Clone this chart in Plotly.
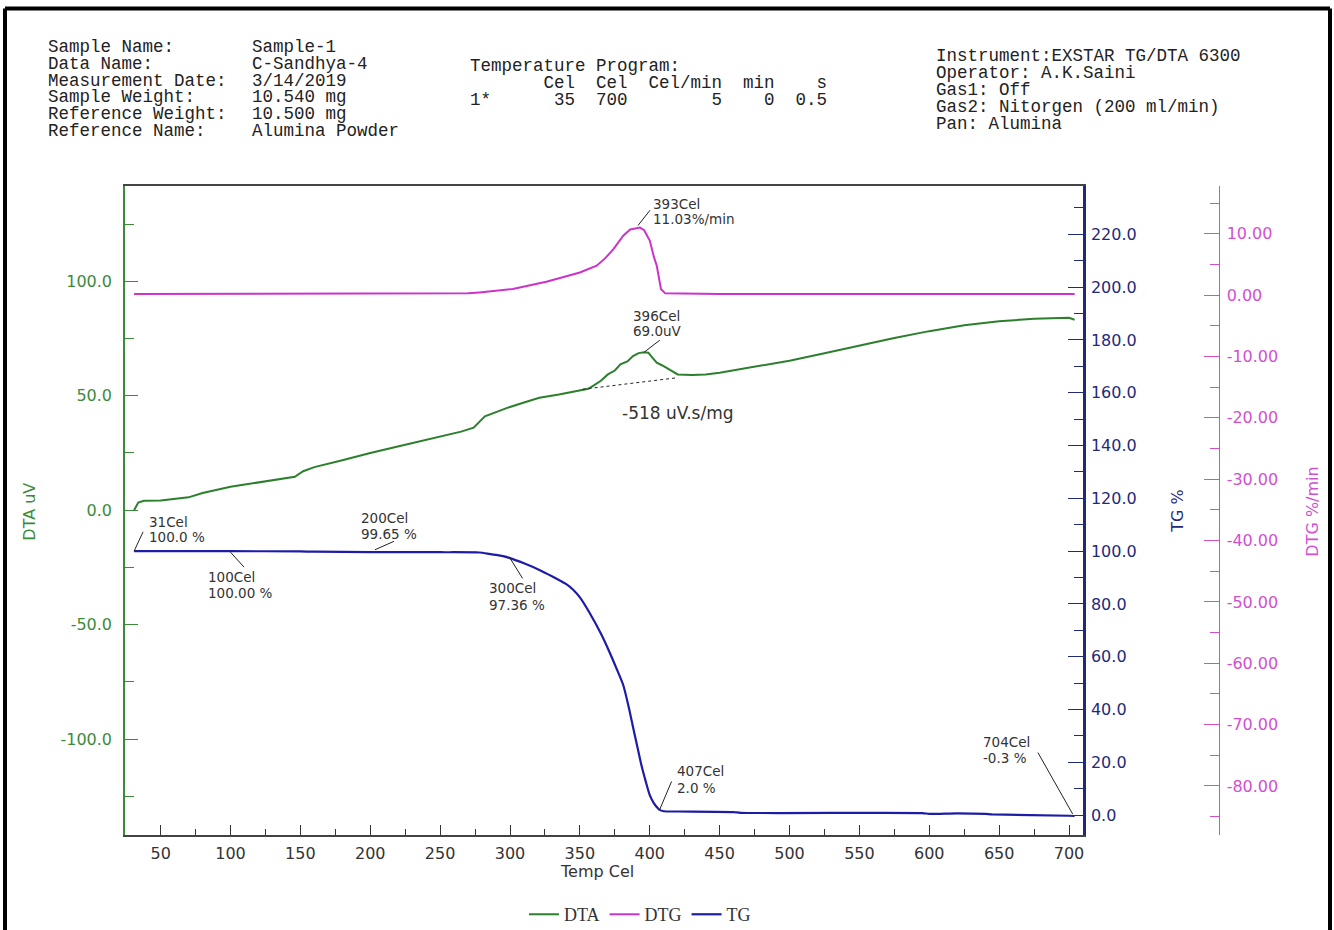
import plotly.graph_objects as go

# ---------------- data ----------------
T_DTA = [31, 34, 38, 50, 70, 80, 100, 120, 140, 146, 152, 160, 180, 200, 225, 250, 265, 274,
         278, 282, 290, 298, 310, 321, 335, 350, 356, 360, 365, 370, 375, 379, 384, 388, 392,
         396, 399, 402, 405, 409, 412, 416, 420, 430, 440, 450, 475, 500, 525, 550, 575, 600,
         625, 650, 675, 700, 704]
DTA = [0.0, 3.3, 4.1, 4.2, 5.6, 7.5, 10.2, 12.2, 14.0, 14.6, 17.0, 18.8, 21.8, 25.0, 28.6,
       32.0, 34.3, 36.0, 38.5, 41.0, 42.8, 44.7, 47.0, 49.1, 50.5, 52.3, 53.0, 54.5, 56.5,
       59.3, 61.0, 63.7, 65.0, 67.3, 68.6, 69.0, 68.8, 66.5, 64.4, 63.2, 62.2, 60.5, 59.3,
       59.0, 59.3, 60.0, 62.5, 65.3, 68.5, 72.0, 75.2, 78.2, 80.8, 82.5, 83.6, 84.0, 83.2]

T_DTG = [31, 100, 200, 270, 278, 302, 326, 350, 362, 368, 374, 381, 386, 390, 393, 396,
         400, 403, 405, 408, 411, 450, 500, 600, 704]
DTG = [0.2, 0.2, 0.2, 0.3, 0.45, 1.0, 2.2, 3.7, 4.8, 6.0, 7.5, 9.7, 10.7, 10.95, 11.03,
       10.6, 8.9, 6.2, 4.8, 1.0, 0.3, 0.2, 0.2, 0.2, 0.2]

T_TG = [31, 100, 150, 160, 200, 250, 278, 285, 290, 295, 300, 310, 321, 330, 340, 345, 350,
        357, 365, 371, 376, 381, 385, 388, 391, 394, 397, 400, 403, 406, 407, 410, 420, 460,
        465, 595, 600, 620, 640, 645, 700, 704]
TG = [100.0, 100.0, 99.9, 99.8, 99.65, 99.6, 99.5, 99.0, 98.6, 98.1, 97.36, 95.4, 92.9,
      90.5, 87.6, 85.5, 82.5, 76.6, 68.8, 62.0, 55.8, 49.3, 40.8, 33.4, 26.2, 19.0, 13.0,
      7.6, 4.5, 2.5, 2.0, 1.5, 1.4, 1.2, 0.9, 0.8, 0.5, 0.7, 0.5, 0.3, -0.2, -0.3]

# DTA peak integration baseline
BASE_T = [352, 419]
BASE_DTA = [52.8, 57.8]

# marked points
TG_MARK_T = [31, 100, 200, 300, 407, 704]
TG_MARK_V = [100.0, 100.00, 99.65, 97.36, 2.0, -0.3]
TG_MARK_TXT = ["100.0 %", "100.00 %", "99.65 %", "97.36 %", "2.0 %", "-0.3 %"]
DTG_PEAK_T, DTG_PEAK_V, DTG_PEAK_TXT = 393, 11.03, "11.03%/min"
DTA_PEAK_T, DTA_PEAK_V, DTA_PEAK_TXT = 396, 69.0, "69.0uV"
AREA_TXT = "-518 uV.s/mg"

# axis ticks
X_RANGE = [24.5, 710]
DTA_TICKS = [-100, -50, 0, 50, 100]
TG_TICKS = [0, 20, 40, 60, 80, 100, 120, 140, 160, 180, 200, 220]
DTG_TICKS = [10, 0, -10, -20, -30, -40, -50, -60, -70, -80]

HDR_LABELS = ["Sample Name:", "Data Name:", "Measurement Date:", "Sample Weight:",
              "Reference Weight:", "Reference Name:"]
HDR_VALUES = ["Sample-1", "C-Sandhya-4", "3/14/2019", "10.540 mg", "10.500 mg", "Alumina Powder"]
PROG_LINES = ["Temperature Program:",
              "       Cel  Cel  Cel/min  min    s",
              "1*      35  700        5    0  0.5"]
INSTR_LINES = ["Instrument:EXSTAR TG/DTA 6300", "Operator: A.K.Saini", "Gas1: Off",
               "Gas2: Nitorgen (200 ml/min)", "Pan: Alumina"]

# ---------------- styling ----------------
# positions below are given in pixels of the 1334x930 target picture; the page is
# photographed at a slightly taller height, so vertical pixel values are mapped with K/DY.
W = 1334
H = 945
K = H / 930.0
DY = 2.0
ML, MR = 125, 94
MT = round((185 - DY) * K)
MB = H - round((833 - DY) * K)
PW = W - ML - MR
PH = H - MT - MB
XD = (1083 - ML) / PW
P3 = (1219.3 - ML) / PW

GREEN = "#2c7f2c"
GREEN_AX = "#3b8b3b"
MAG = "#cc33cc"
MAG_AX = "#d24fd2"
BLUE = "#1c1ca6"
NAVY = "#1f2a7a"
GRAY = "#333333"
SANS = "DejaVu Sans"
MONO = "Liberation Mono"
TICK_SIZE = 16


def px(xp):
    return (xp - ML) / PW


def py(yp):
    return (MT + PH - (yp - DY) * K) / PH


fig = go.Figure()
fig.add_trace(go.Scatter(x=T_DTA, y=DTA, name="DTA", mode="lines",
                         line=dict(color=GREEN, width=2), yaxis="y"))
fig.add_trace(go.Scatter(x=T_DTG, y=DTG, name="DTG", mode="lines",
                         line=dict(color=MAG, width=2), yaxis="y3"))
fig.add_trace(go.Scatter(x=T_TG, y=TG, name="TG", mode="lines", line_shape="spline",
                         line=dict(color=BLUE, width=2.2, smoothing=0.6), yaxis="y2"))
fig.add_trace(go.Scatter(x=BASE_T, y=BASE_DTA, mode="lines", showlegend=False,
                         line=dict(color="#222222", width=1, dash="dot"), yaxis="y"))

annotations = []
shapes = []


def label(xv, yv, yref, lines, dx, dys, leader, size=13.5):
    for txt, dy in zip(lines, dys):
        annotations.append(dict(x=xv, y=yv, xref="x", yref=yref, text=txt, showarrow=False,
                                xanchor="left", yanchor="middle", xshift=dx, yshift=dy * K,
                                font=dict(family=SANS, size=size, color=GRAY)))
    x0, y0, x1, y1 = leader
    shapes.append(dict(type="line", xref="x", yref=yref, xsizemode="pixel", ysizemode="pixel",
                       xanchor=xv, yanchor=yv, x0=x0, y0=y0 * K, x1=x1, y1=y1 * K,
                       line=dict(color="#222222", width=1)))


TG_OFFS = [
    (12.6, (29, 14), (0, 0, 9, 19)),
    (-24.5, (-25, -41), (0, -1, 13.5, -15.7)),
    (-11, (34, 18), (4.7, 2.3, 23.7, 10.6)),
    (-23.4, (-29.3, -46), (0, 0, 12.6, -20)),
    (15.3, (38, 21.3), (0, 0, 12, 28)),
    (-94, (73, 57), (-2, 2, -36.7, 62.4)),
]
for t, v, txt, (dx, dys, ld) in zip(TG_MARK_T, TG_MARK_V, TG_MARK_TXT, TG_OFFS):
    label(t, v, "y2", [f"{t}Cel", txt], dx, dys, ld)

label(DTG_PEAK_T, DTG_PEAK_V, "y3", [f"{DTG_PEAK_T}Cel", DTG_PEAK_TXT], 11.5, (23.4, 8.4),
      (-2, 2, 10, 17))
label(DTA_PEAK_T, DTA_PEAK_V, "y", [f"{DTA_PEAK_T}Cel", DTA_PEAK_TXT], -12.7, (36, 21),
      (0, 0, 15.6, 11.8))

annotations.append(dict(x=px(620), y=py(412), xref="paper", yref="paper", text=AREA_TXT,
                        showarrow=False, xanchor="left", yanchor="middle",
                        font=dict(family=SANS, size=17, color=GRAY)))


# header text
def hdr(txt, xp, yp):
    annotations.append(dict(x=px(xp), y=py(yp), xref="paper", yref="paper",
                            text=txt.replace(" ", "\u00a0"), showarrow=False,
                            xanchor="left", yanchor="middle",
                            font=dict(family=MONO, size=17.5, color="#222222")))


for i, (lab, val) in enumerate(zip(HDR_LABELS, HDR_VALUES)):
    hdr(lab, 46, 46.5 + 16.7 * i)
    hdr(val, 250, 46.5 + 16.7 * i)
for i, ln in enumerate(PROG_LINES):
    hdr(ln, 468, 65.5 + 17 * i)
for i, ln in enumerate(INSTR_LINES):
    hdr(ln, 934, 55.5 + 17 * i)


# axis titles
def title(txt, xp, yp, color, angle):
    annotations.append(dict(x=px(xp), y=py(yp), xref="paper", yref="paper", text=txt,
                            textangle=angle, showarrow=False, xanchor="center",
                            yanchor="middle", font=dict(family=SANS, size=16, color=color)))


title("DTA uV", 30, 510, GREEN_AX, -90)
title("TG %", 1178, 510, NAVY, -90)
title("DTG %/min", 1313, 510, MAG_AX, -90)
title("Temp Cel", 597, 869, GRAY, 0)

# page frame (left, top, right edges; it runs off the bottom of the page)
FRAME = dict(color="#000000", width=4)
for x0, y0, x1, y1 in [(5, 8, 5, 932), (5, 8, 1330, 8), (1330, 8, 1330, 932)]:
    shapes.append(dict(type="line", xref="paper", yref="paper", x0=px(x0), x1=px(x1),
                       y0=max(py(y0), 0.0) if y0 > 900 else py(y0),
                       y1=max(py(y1), -MB / PH), line=FRAME))

fig.update_layout(
    width=W, height=H, autosize=False, template="none",
    paper_bgcolor="white", plot_bgcolor="white",
    margin=dict(l=ML, r=MR, t=MT, b=MB, pad=0),
    showlegend=True,
    legend=dict(orientation="h", x=px(640), xanchor="center", y=py(912), yanchor="middle",
                font=dict(family="Liberation Serif", size=18, color=GRAY),
                bgcolor="rgba(0,0,0,0)", itemwidth=30),
    xaxis=dict(domain=[0, XD], range=X_RANGE, showline=True, linecolor="#444444",
               linewidth=1.5, mirror=True, ticks="inside", ticklen=10, tickwidth=1.3,
               tickcolor="#333333", dtick=50, tick0=0, showgrid=False, zeroline=False,
               automargin=False, ticklabelstandoff=3,
               tickfont=dict(family=SANS, size=TICK_SIZE, color=GRAY),
               minor=dict(ticks="inside", ticklen=6, dtick=25, tick0=0, tickcolor="#333333",
                          showgrid=False)),
    yaxis=dict(range=[-141.9, 141.6], side="left", showline=True, linecolor=GREEN_AX,
               linewidth=1.5, ticks="inside", ticklen=13, tickcolor=GREEN_AX, tickwidth=1.3,
               tickmode="array", tickvals=DTA_TICKS,
               ticktext=[f"{v:.1f}" for v in DTA_TICKS], showgrid=False, zeroline=False,
               automargin=False, ticklabelstandoff=8,
               tickfont=dict(family=SANS, size=TICK_SIZE, color=GREEN_AX),
               minor=dict(ticks="inside", ticklen=9, dtick=25, tick0=0, tickcolor=GREEN_AX,
                          showgrid=False)),
    yaxis2=dict(range=[-7.5, 238.3], overlaying="y", side="right", anchor="x",
                showline=True, linecolor=NAVY, linewidth=2.5, ticks="inside", ticklen=15,
                tickcolor=NAVY, tickwidth=1.3, tickmode="array", tickvals=TG_TICKS,
                ticktext=[f"{v:.1f}" for v in TG_TICKS], showgrid=False, zeroline=False,
                automargin=False, ticklabelstandoff=2,
                tickfont=dict(family=SANS, size=TICK_SIZE, color=NAVY),
                minor=dict(ticks="inside", ticklen=9, dtick=10, tick0=0, tickcolor=NAVY,
                           showgrid=False)),
    yaxis3=dict(range=[-88, 17.8], overlaying="y", side="right", anchor="free", position=P3,
                showline=True, linecolor=MAG_AX, linewidth=1.3, ticks="inside", ticklen=15,
                tickcolor=MAG_AX, tickwidth=1.3, tickmode="array", tickvals=DTG_TICKS,
                ticktext=[f"{v:.2f}" for v in DTG_TICKS], showgrid=False, zeroline=False,
                automargin=False, ticklabelstandoff=3,
                tickfont=dict(family=SANS, size=TICK_SIZE, color=MAG_AX),
                minor=dict(ticks="inside", ticklen=9, dtick=5, tick0=0, tickcolor=MAG_AX,
                           showgrid=False)),
    annotations=annotations,
    shapes=shapes,
)

fig.write_html("out.html", config={"displayModeBar": False},
               post_script="document.body.style.margin='0px';"
                           "document.body.style.overflow='hidden';")
